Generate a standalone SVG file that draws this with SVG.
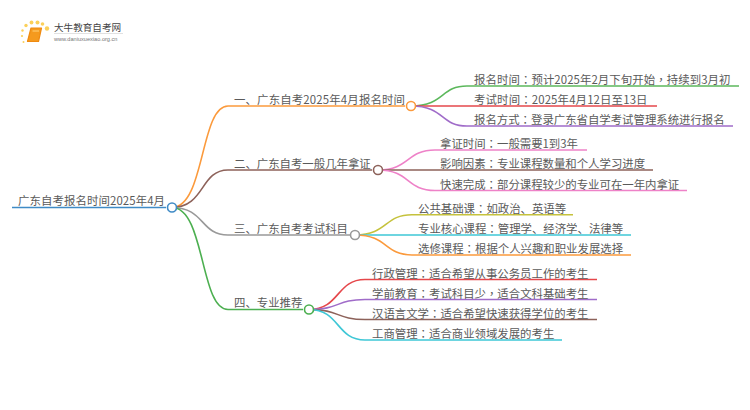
<svg xmlns="http://www.w3.org/2000/svg" width="750" height="410" viewBox="0 0 750 410">
<style>
text{font-family:"Noto Sans CJK SC","Noto Sans",sans-serif;font-size:11.4px;fill:#5a5a5a}
tspan.p{font-family:"Noto Sans CJK TC","Noto Sans CJK SC",sans-serif}
path{fill:none;stroke-width:1.6}
circle.n{fill:#fff;stroke-width:1.6}
.logo{font-size:9.6px;fill:#444}
.url{font-size:5.6px;fill:#777;font-family:"Liberation Sans",sans-serif}
.dot{fill:#fbd05a}
</style>
<rect width="750" height="410" fill="#fff"/>
<g id="logo">
<circle class="dot" cx="47" cy="28.500" r="2.200"/><circle class="dot" cx="42.500" cy="24" r="1.800"/><circle class="dot" cx="37.500" cy="22.500" r="2"/><circle class="dot" cx="31.500" cy="22.500" r="1.900"/><circle class="dot" cx="26" cy="25.500" r="1.700"/><circle class="dot" cx="22.500" cy="30.500" r="1.200"/><circle class="dot" cx="22" cy="36" r="1.100"/><circle class="dot" cx="23.500" cy="42" r="1"/>
<path d="M31 28h10.500l-3 13.500h-11z" style="fill:#f59a1e;stroke:#ef8a10;stroke-width:1.200;stroke-linejoin:round"/>
<path d="M32.500 31h6.500" style="stroke:#ffd27a;stroke-width:1"/>
<text class="logo" x="54" y="31">大牛教育自考网</text>
<path d="M54 33.500h69" style="stroke:#ccc;stroke-width:.6"/>
<text class="url" x="54" y="41">www.daniuxuexiao.org.cn</text>
</g>
<g id="connectors">
<path d="M12 207.500H166" stroke="#3f8bc6"/>
<path d="M172 207.500C205 207.500 200 106 228 106H405" stroke="#fb9a3c"/>
<path d="M172 207.500C205 207.500 200 170 228 170H372" stroke="#8d625a"/>
<path d="M172 207.500C205 207.500 200 235 228 235H350" stroke="#999"/>
<path d="M172 207.500C205 207.500 200 309.500 228 309.500H303" stroke="#4caf50"/>
<path d="M411 106C445 106 440 86 467 86H739" stroke="#5cb85c"/>
<path d="M411 106H657" stroke="#e5474b"/>
<path d="M411 106C445 106 440 126 467 126H733" stroke="#a06cc9"/>
<path d="M378 170C410 170 406 150 435 150H587" stroke="#ee82c8"/>
<path d="M378 170H653" stroke="#8d625a"/>
<path d="M378 170C410 170 406 190.500 435 190.500H687" stroke="#ee82c8"/>
<path d="M355 235C388 235 384 214.700 412 214.700H573" stroke="#c5c23c"/>
<path d="M355 235H631" stroke="#3ec7d6"/>
<path d="M355 235C388 235 384 255 412 255H631" stroke="#fb9a3c"/>
<path d="M309 309.500C340 309.500 336 279.500 365 279.500H597" stroke="#e5474b"/>
<path d="M309 309.500C340 309.500 336 299.500 365 299.500H597" stroke="#a06cc9"/>
<path d="M309 309.500C340 309.500 336 319.500 365 319.500H597" stroke="#8d625a"/>
<path d="M309 309.500C340 309.500 336 340 365 340H562" stroke="#3ec7d6"/>
</g>
<g id="root"><text x="18" y="205" textLength="147" lengthAdjust="spacing">广东自考报名时间2025年4月</text><circle class="n" cx="172" cy="207.500" r="4.500" stroke="#3f8bc6"/></g>
<g id="b1"><text x="234" y="104" textLength="171" lengthAdjust="spacing">一、广东自考2025年4月报名时间</text><circle class="n" cx="411" cy="106" r="4.500" stroke="#fb9a3c"/></g>
<g id="b2"><text x="234" y="168">二、广东自考一般几年拿证</text><circle class="n" cx="378" cy="170" r="4.500" stroke="#8d625a"/></g>
<g id="b3"><text x="234" y="233">三、广东自考考试科目</text><circle class="n" cx="355" cy="235" r="4.500" stroke="#999"/></g>
<g id="b4"><text x="234" y="307">四、专业推荐</text><circle class="n" cx="309" cy="309.500" r="4.500" stroke="#4caf50"/></g>
<g id="c11"><text x="474" y="84" textLength="256.500" lengthAdjust="spacing">报名时间<tspan class="p">：</tspan>预计2025年2月下旬开始<tspan class="p">，</tspan>持续到3月初</text></g>
<g id="c12"><text x="474" y="104" textLength="173.500" lengthAdjust="spacing">考试时间<tspan class="p">：</tspan>2025年4月12日至13日</text></g>
<g id="c13"><text x="474" y="124">报名方式<tspan class="p">：</tspan>登录广东省自学考试管理系统进行报名</text></g>
<g id="c21"><text x="440" y="148">拿证时间<tspan class="p">：</tspan>一般需要1到3年</text></g>
<g id="c22"><text x="440" y="168">影响因素<tspan class="p">：</tspan>专业课程数量和个人学习进度</text></g>
<g id="c23"><text x="440" y="188.500">快速完成<tspan class="p">：</tspan>部分课程较少的专业可在一年内拿证</text></g>
<g id="c31"><text x="418" y="213">公共基础课<tspan class="p">：</tspan>如政治、英语等</text></g>
<g id="c32"><text x="418" y="233">专业核心课程<tspan class="p">：</tspan>管理学、经济学、法律等</text></g>
<g id="c33"><text x="418" y="253">选修课程<tspan class="p">：</tspan>根据个人兴趣和职业发展选择</text></g>
<g id="c41"><text x="372" y="277.500">行政管理<tspan class="p">：</tspan>适合希望从事公务员工作的考生</text></g>
<g id="c42"><text x="372" y="297.500">学前教育<tspan class="p">：</tspan>考试科目少<tspan class="p">，</tspan>适合文科基础考生</text></g>
<g id="c43"><text x="372" y="317.500">汉语言文学<tspan class="p">：</tspan>适合希望快速获得学位的考生</text></g>
<g id="c44"><text x="372" y="338">工商管理<tspan class="p">：</tspan>适合商业领域发展的考生</text></g>
</svg>
